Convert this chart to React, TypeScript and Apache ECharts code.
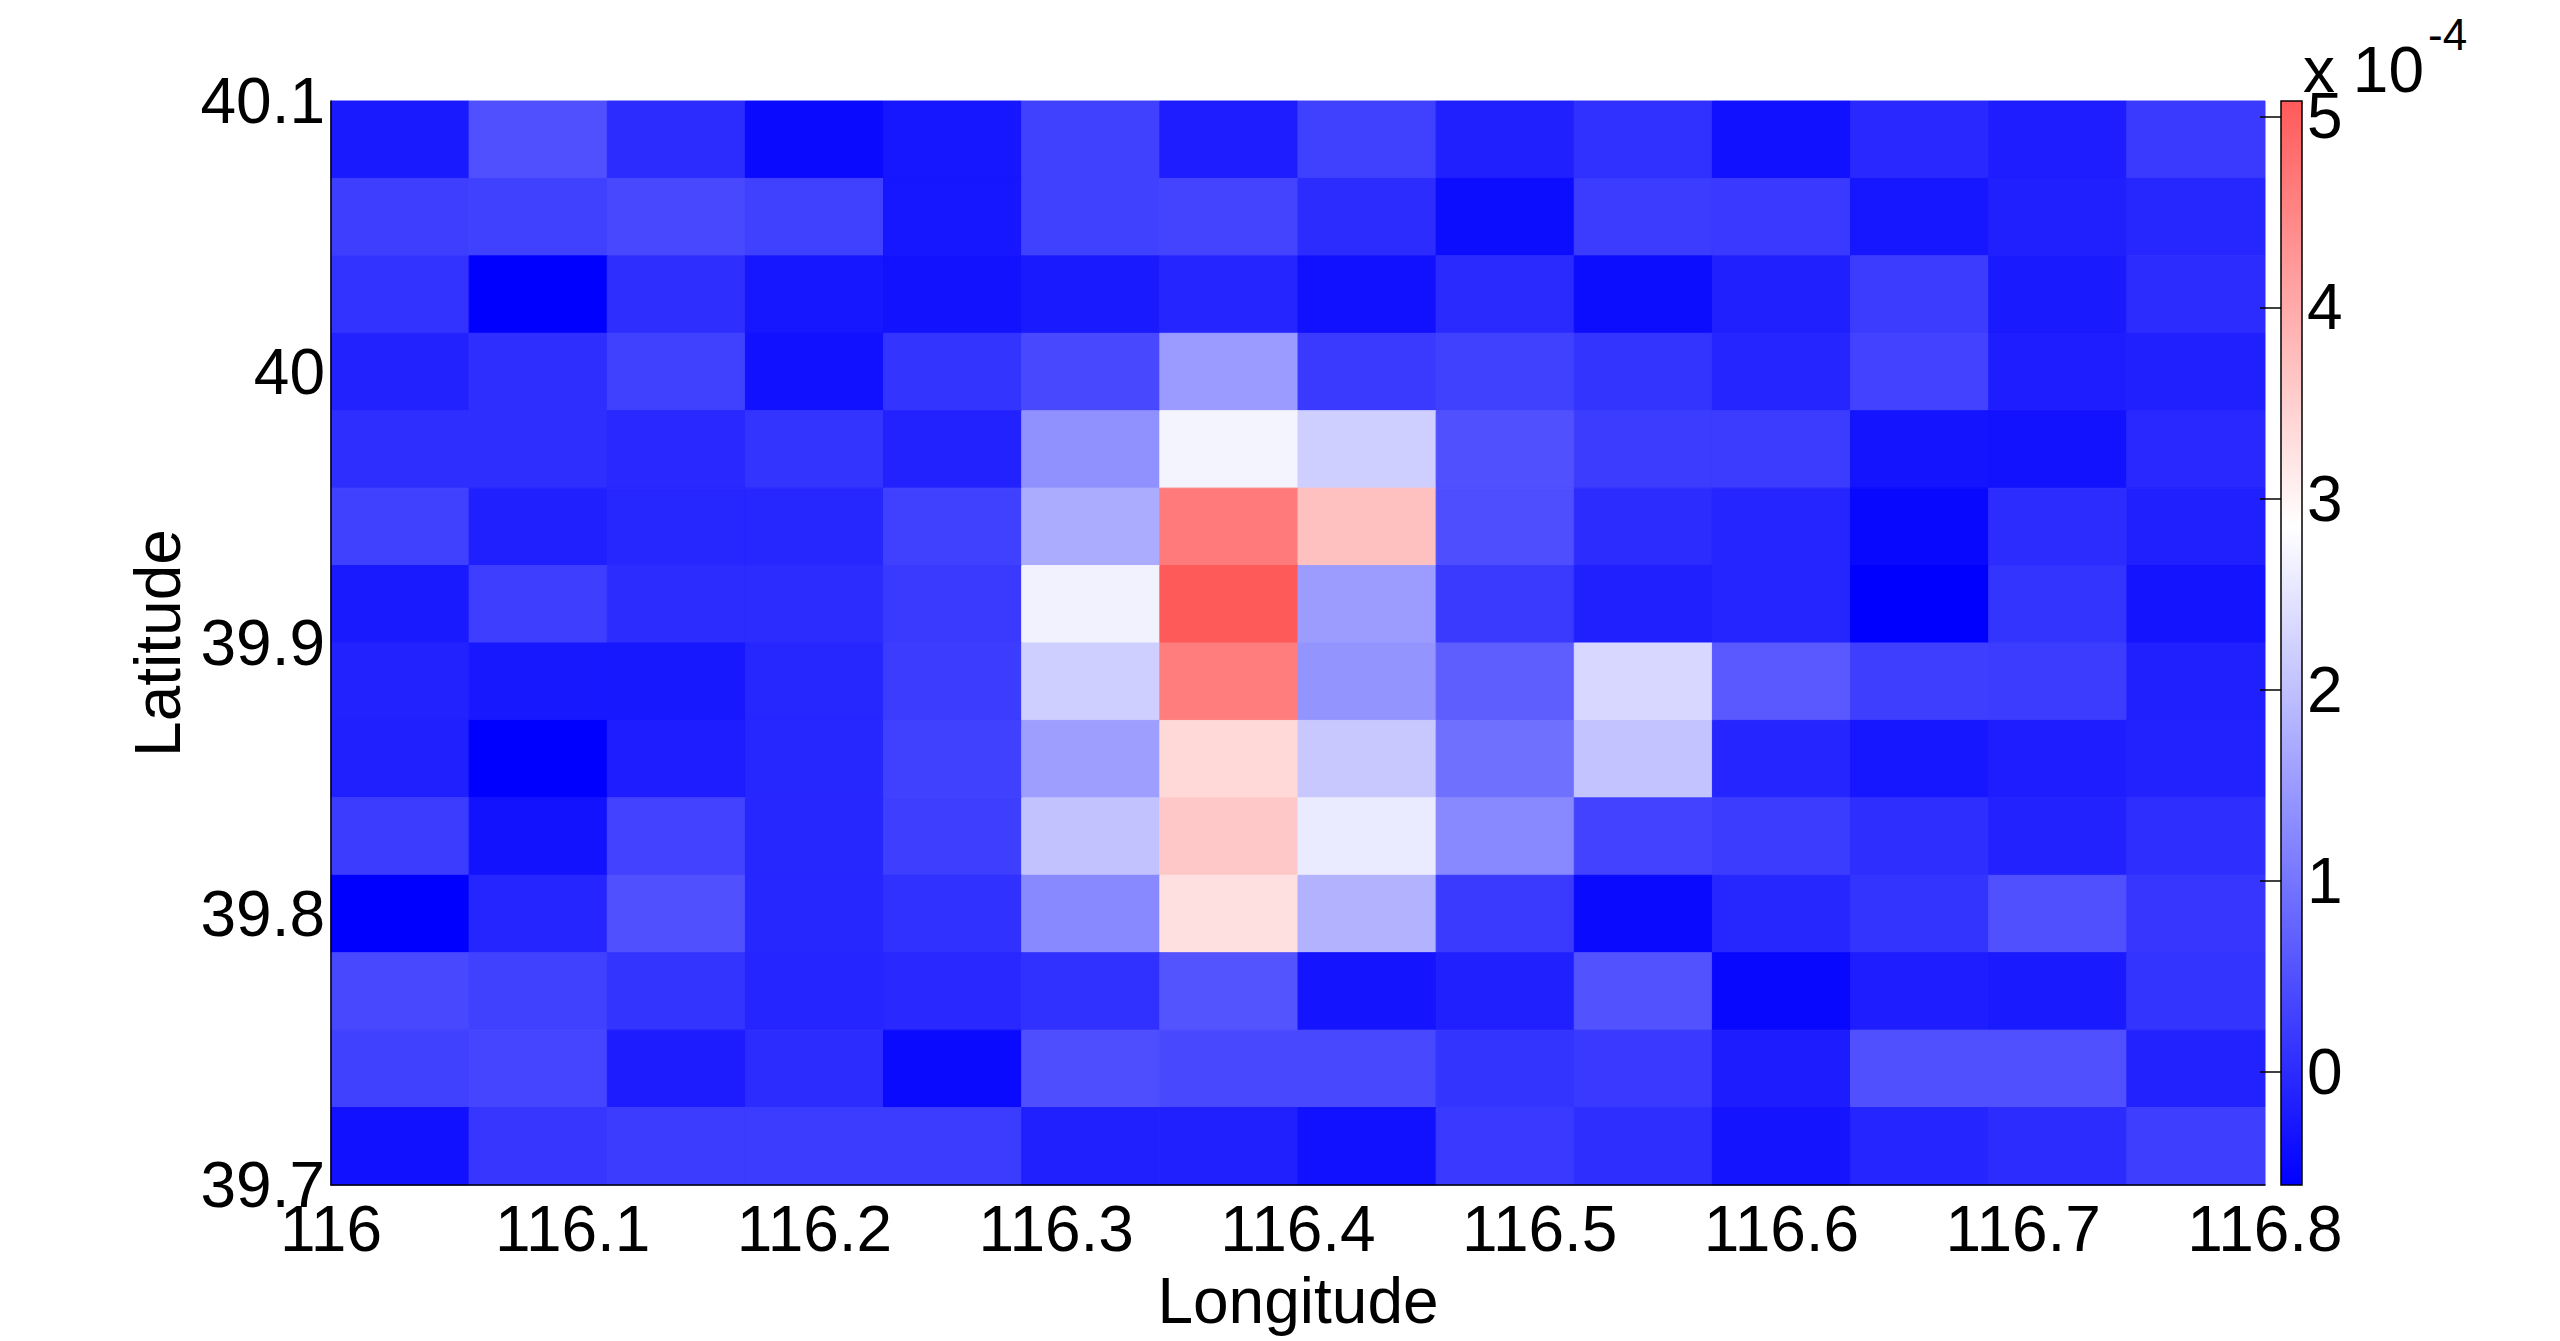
import React, { useEffect, useRef } from "react";
import * as echarts from "echarts";

// ---- axes ----
const LON_MIN = 116;
const LON_MAX = 116.8;
const LAT_MIN = 39.7;
const LAT_MAX = 40.1;
const xTickLabels = ["116", "116.1", "116.2", "116.3", "116.4", "116.5", "116.6", "116.7", "116.8"];
const yTickLabels = ["39.7", "39.8", "39.9", "40", "40.1"];
const colorbarTickLabels = ["0", "1", "2", "3", "4", "5"];

// ---- colour scale (units of 1e-4) ----
const CB_MIN = -0.59;
const CB_MAX = 5.08;
const CB_WHITE = 2.85;

// ---- grid values (units of 1e-4), rows from north (40.1) to south (39.7), columns west to east ----
const row00 = [-0.24, 0.49, 0.0, -0.46, -0.29, 0.27, -0.19, 0.27, -0.16, 0.06, -0.37, -0.05, -0.19, 0.19];
const row01 = [0.25, 0.27, 0.38, 0.27, -0.29, 0.27, 0.33, 0.0, -0.43, 0.22, 0.17, -0.29, -0.16, -0.08];
const row02 = [0.1, -0.59, 0.03, -0.29, -0.35, -0.24, -0.1, -0.37, -0.02, -0.43, -0.16, 0.22, -0.24, 0.0];
const row03 = [-0.13, 0.03, 0.27, -0.37, 0.11, 0.38, 1.49, 0.19, 0.27, 0.11, -0.1, 0.3, -0.19, -0.16];
const row04 = [0.03, 0.03, -0.05, 0.11, -0.13, 1.35, 2.7, 2.2, 0.49, 0.22, 0.22, -0.32, -0.35, -0.05];
const row05 = [0.27, -0.16, -0.08, -0.08, 0.27, 1.73, 4.64, 3.7, 0.46, 0.0, -0.1, -0.48, 0.0, -0.16];
const row06 = [-0.24, 0.25, 0.0, 0.0, 0.19, 2.67, 5.08, 1.51, 0.19, -0.16, -0.1, -0.59, 0.11, -0.32];
const row07 = [-0.13, -0.27, -0.27, -0.08, 0.22, 2.2, 4.6, 1.41, 0.68, 2.32, 0.62, 0.25, 0.22, -0.16];
const row08 = [-0.16, -0.59, -0.19, -0.08, 0.27, 1.54, 3.38, 2.11, 0.92, 2.05, -0.1, -0.29, -0.19, -0.13];
const row09 = [0.22, -0.35, 0.3, -0.08, 0.25, 2.03, 3.59, 2.59, 1.24, 0.3, 0.22, 0.03, -0.13, 0.03];
const row10 = [-0.59, -0.1, 0.49, -0.08, 0.06, 1.24, 3.27, 1.81, 0.19, -0.46, -0.08, 0.11, 0.49, 0.14];
const row11 = [0.38, 0.27, 0.11, -0.1, -0.05, 0.08, 0.54, -0.32, -0.16, 0.52, -0.48, -0.19, -0.24, 0.11];
const row12 = [0.27, 0.35, -0.21, 0.0, -0.46, 0.46, 0.38, 0.38, 0.11, 0.17, -0.21, 0.49, 0.49, -0.13];
const row13 = [-0.37, 0.14, 0.22, 0.22, 0.22, -0.16, -0.16, -0.37, 0.17, 0.03, -0.32, -0.1, 0.0, 0.25];
const gridRows = [row00, row01, row02, row03, row04, row05, row06, row07, row08, row09, row10, row11, row12, row13];

const FONT = "'Liberation Sans', Arial, Helvetica, sans-serif";
const FONT_SIZE = 64;

function cmap(v: number): string {
  const span = CB_WHITE - CB_MIN;
  if (v <= CB_WHITE) {
    const t = Math.max(0, (v - CB_MIN) / span);
    const g = Math.round(255 * t);
    return `rgb(${g},${g},255)`;
  }
  const t = Math.min(1, (v - CB_WHITE) / span);
  const g = Math.round(255 * (1 - t));
  return `rgb(255,${g},${g})`;
}

function fmt(v: number): string {
  return String(Number(v.toFixed(1)));
}

export default function App() {
  const ref = useRef<HTMLDivElement>(null);

  useEffect(() => {
    if (!ref.current) return;
    const chart = echarts.init(ref.current, undefined, { renderer: "svg" });

    const nx = gridRows[0].length;
    const ny = gridRows.length;
    const dLon = (LON_MAX - LON_MIN) / nx;
    const dLat = (LAT_MAX - LAT_MIN) / ny;
    const cells: number[][] = [];
    gridRows.forEach((row, r) => {
      row.forEach((v, c) => {
        cells.push([LON_MIN + (c + 0.5) * dLon, LAT_MAX - (r + 0.5) * dLat, v]);
      });
    });

    const stops: string[] = [];
    const N = 200;
    for (let i = 0; i <= N; i++) stops.push(cmap(CB_MIN + ((CB_MAX - CB_MIN) * i) / N));

    const tWhite = (CB_WHITE - CB_MIN) / (CB_MAX - CB_MIN);

    const labelStyle = { fontSize: FONT_SIZE, color: "#000", fontFamily: FONT };

    chart.setOption({
      animation: false,
      backgroundColor: "#fff",
      textStyle: { fontFamily: FONT },
      grid: [
        { left: 331, top: 101, width: 1934, height: 1084, containLabel: false },
        { left: 2281, top: 101, width: 21, height: 1084, containLabel: false },
      ],
      xAxis: [
        {
          gridIndex: 0,
          type: "value",
          min: LON_MIN,
          max: LON_MAX,
          interval: 0.1,
          axisLine: { onZero: false, lineStyle: { color: "#000", width: 1.5 } },
          axisTick: { show: false },
          splitLine: { show: false },
          axisLabel: {
            ...labelStyle,
            margin: 12,
            formatter: (v: number) => xTickLabels.find((s) => Number(s) === Number(fmt(v))) ?? fmt(v),
          },
          name: "Longitude",
          nameLocation: "middle",
          nameGap: 84,
          nameTextStyle: labelStyle,
          z: 5,
        },
        { gridIndex: 1, type: "value", min: 0, max: 1, show: false },
      ],
      yAxis: [
        {
          gridIndex: 0,
          type: "value",
          min: LAT_MIN,
          max: LAT_MAX,
          interval: 0.1,
          axisLine: { onZero: false, lineStyle: { color: "#000", width: 1.5 } },
          axisTick: { show: false },
          splitLine: { show: false },
          axisLabel: {
            ...labelStyle,
            margin: 6,
            formatter: (v: number) => yTickLabels.find((s) => Number(s) === Number(fmt(v))) ?? fmt(v),
          },
          name: "Latitude",
          nameLocation: "middle",
          nameRotate: 90,
          nameGap: 140,
          nameTextStyle: labelStyle,
          z: 5,
        },
        {
          gridIndex: 1,
          type: "value",
          min: CB_MIN,
          max: CB_MAX,
          splitNumber: 5,
          position: "right",
          axisLine: { show: false },
          axisTick: { show: true, inside: true, length: 21, lineStyle: { color: "#000", width: 1.5 } },
          splitLine: { show: false },
          axisLabel: {
            ...labelStyle,
            margin: 5,
            showMinLabel: false,
            showMaxLabel: false,
            formatter: (v: number) => {
              const s = String(Math.round(v));
              return Math.abs(v - Math.round(v)) < 1e-6 && colorbarTickLabels.includes(s) ? s : "";
            },
          },
          z: 10,
        },
      ],
      visualMap: {
        show: false,
        type: "continuous",
        min: CB_MIN,
        max: CB_MAX,
        dimension: 2,
        seriesIndex: 0,
        inRange: { color: stops },
      },
      series: [
        {
          type: "custom",
          xAxisIndex: 0,
          yAxisIndex: 0,
          data: cells,
          encode: { x: 0, y: 1 },
          renderItem: (params: any, api: any) => {
            const center = api.coord([api.value(0), api.value(1)]);
            const size = api.size([dLon, dLat]);
            const color = api.visual("color");
            return {
              type: "rect",
              shape: {
                x: center[0] - size[0] / 2,
                y: center[1] - size[1] / 2,
                width: size[0],
                height: size[1],
              },
              style: { fill: color, stroke: color, lineWidth: 1 },
            };
          },
          z: 1,
        },
        {
          type: "custom",
          xAxisIndex: 1,
          yAxisIndex: 1,
          data: [[0, CB_MIN, 1, CB_MAX]],
          encode: { x: [0, 2], y: [1, 3] },
          renderItem: (params: any, api: any) => {
            const p0 = api.coord([api.value(0), api.value(3)]);
            const p1 = api.coord([api.value(2), api.value(1)]);
            return {
              type: "rect",
              shape: { x: p0[0], y: p0[1], width: p1[0] - p0[0], height: p1[1] - p0[1] },
              style: {
                fill: {
                  type: "linear",
                  x: 0,
                  y: 1,
                  x2: 0,
                  y2: 0,
                  colorStops: [
                    { offset: 0, color: cmap(CB_MIN) },
                    { offset: tWhite, color: "#ffffff" },
                    { offset: 1, color: cmap(CB_MAX) },
                  ],
                },
                stroke: "#000",
                lineWidth: 1.5,
              },
            };
          },
          z: 1,
        },
      ],
      graphic: [
        {
          type: "text",
          left: 2303,
          top: 38,
          style: { text: "x 10", fontSize: FONT_SIZE, fill: "#000", fontFamily: FONT },
        },
        {
          type: "text",
          left: 2428,
          top: 12,
          style: { text: "-4", fontSize: 44, fill: "#000", fontFamily: FONT },
        },
      ],
    });

    return () => chart.dispose();
  }, []);

  return (
    <div
      ref={ref}
      style={{ position: "fixed", left: 0, top: 0, width: "2560px", height: "1341px", background: "#fff" }}
    />
  );
}
